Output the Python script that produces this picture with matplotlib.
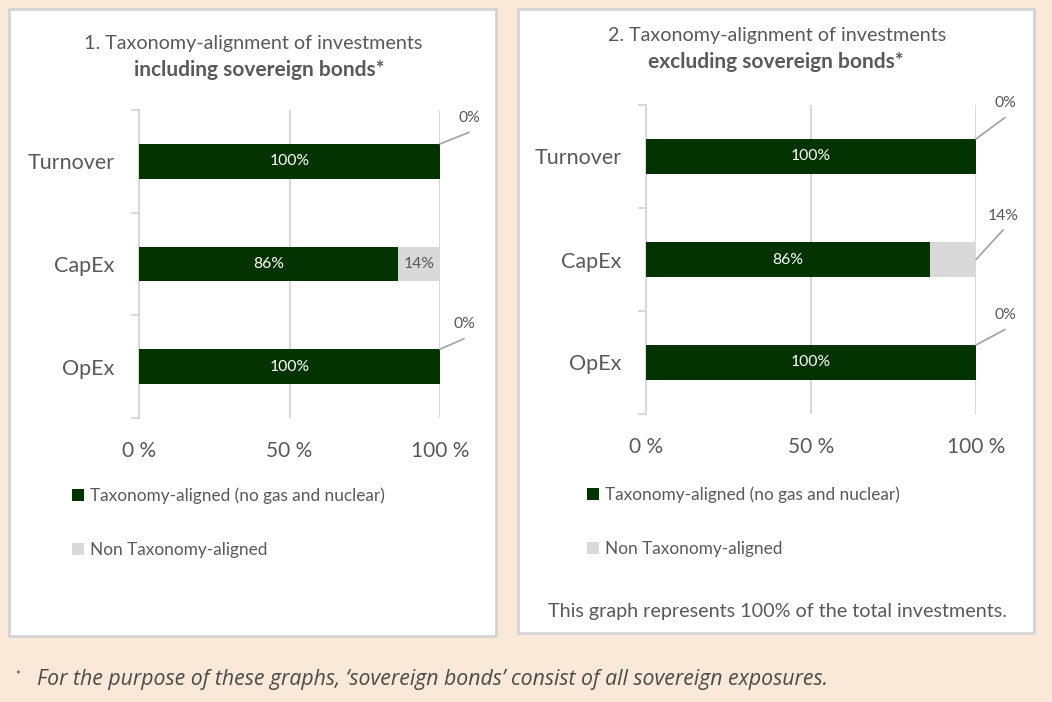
import matplotlib
matplotlib.use('Agg')
import matplotlib.pyplot as plt
from matplotlib.patches import Rectangle, Patch

plt.rcParams['font.family'] = ['Lato', 'DejaVu Sans']

# ----- data -----
categories = ['Turnover', 'CapEx', 'OpEx']
aligned_incl = [100, 86, 100]
non_aligned_incl = [0, 14, 0]
aligned_excl = [100, 86, 100]
non_aligned_excl = [0, 14, 0]
xticks = [0, 50, 100]
xtick_labels = ['0 %', '50 %', '100 %']
legend_labels = ['Taxonomy-aligned (no gas and nuclear)', 'Non Taxonomy-aligned']

# ----- styles -----
W, H = 1052, 702
GREEN = '#023300'
GREY = '#D9D9D9'
TEXT = '#595959'
LEADER = '#A6A6A6'
BG = '#FAE8D8'
BAR_H = 0.34


def fx(px):
    return px / W


def fy(py):
    return 1 - py / H


fig = plt.figure(figsize=(W / 100, H / 100), dpi=100)
fig.patch.set_facecolor(BG)

# white panels
for x0, y0, x1, y1 in [(9, 9, 496, 636), (518, 9, 1034, 633)]:
    fig.add_artist(Rectangle((fx(x0), fy(y1)), fx(x1 - x0), (y1 - y0) / H,
                             transform=fig.transFigure, facecolor='white',
                             edgecolor='#D4D4D4', lw=2, zorder=0))


def draw_panel(ax, aligned, non_aligned, leaders):
    ypos = list(range(len(categories)))
    ax.barh(ypos, aligned, height=BAR_H, color=GREEN, zorder=3)
    ax.barh(ypos, non_aligned, left=aligned, height=BAR_H, color=GREY, zorder=3)
    ax.set_xlim(0, 100)
    ax.set_ylim(len(categories) - 0.5, -0.5)
    ax.set_facecolor('none')
    for s in ['top', 'right', 'bottom']:
        ax.spines[s].set_visible(False)
    ax.spines['left'].set_color(GREY)
    ax.spines['left'].set_linewidth(1.5)
    ax.set_xticks(xticks)
    ax.set_xticklabels(xtick_labels)
    ax.tick_params(axis='x', length=0, pad=16.5, labelsize=15, labelcolor=TEXT)
    ax.set_yticks(ypos)
    ax.set_yticklabels(categories)
    ax.tick_params(axis='y', which='major', length=0, pad=17.5, labelsize=15.5, labelcolor=TEXT)
    ax.set_yticks([i - 0.5 for i in range(len(categories) + 1)], minor=True)
    ax.tick_params(axis='y', which='minor', length=6, width=1.5, color=GREY)
    ax.grid(axis='x', color=GREY, lw=1.5, zorder=0)
    ax.set_axisbelow(True)

    for i, v in enumerate(aligned):
        ax.text(v / 2, i, f'{v}%', color='white', ha='center', va='center',
                fontsize=11.3, zorder=4)
    for i, v in enumerate(non_aligned):
        lead = leaders[i]
        if lead is None:
            ax.text(aligned[i] + v / 2, i, f'{v}%', color=TEXT, ha='center',
                    va='center', fontsize=11.3, zorder=4)
            continue
        dx, dy, at_top = lead
        yy = i - BAR_H / 2 if at_top else i
        xx = aligned[i] + v
        ax.annotate('', xy=(xx, yy), xytext=(dx, dy - 14.5), textcoords='offset pixels',
                    arrowprops=dict(arrowstyle='-', color=LEADER, lw=1.3,
                                    shrinkA=0, shrinkB=0), zorder=4)
        ax.annotate(f'{v}%', xy=(xx, yy), xytext=(dx, dy), textcoords='offset pixels',
                    ha='center', va='center', color=TEXT, fontsize=11.3, zorder=4)


# left chart
ax1 = fig.add_axes([fx(139), fy(418), fx(440 - 139), (418 - 110) / H])
draw_panel(ax1, aligned_incl, non_aligned_incl,
           [(29, 26, True), None, (24, 25, True)])

# right chart
ax2 = fig.add_axes([fx(646), fy(414), fx(976 - 646), (414 - 105) / H])
draw_panel(ax2, aligned_excl, non_aligned_excl,
           [(29, 36, True), (27, 44, False), (29, 30, True)])

# titles
fig.text(fx(253), fy(43), '1. Taxonomy-alignment of investments', ha='center',
         va='center', fontsize=14.2, color=TEXT)
fig.text(fx(259), fy(70), 'including sovereign bonds*', ha='center', va='center',
         fontsize=15, color=TEXT, fontweight='bold')
fig.text(fx(777), fy(36), '2. Taxonomy-alignment of investments', ha='center',
         va='center', fontsize=14.2, color=TEXT)
fig.text(fx(776), fy(62), 'excluding sovereign bonds*', ha='center', va='center',
         fontsize=15, color=TEXT, fontweight='bold')

# legends
handles = [Patch(facecolor=GREEN), Patch(facecolor=GREY)]
for xl, yl in [(72, 523), (587, 522)]:
    fig.legend(handles, legend_labels, loc='center left',
               bbox_to_anchor=(fx(xl), fy(yl)), frameon=False, fontsize=12.4,
               labelcolor=TEXT, handlelength=0.72, handleheight=0.72,
               handletextpad=0.3, labelspacing=2.2, borderpad=0, borderaxespad=0)

fig.text(fx(777), fy(611), 'This graph represents 100% of the total investments.',
         ha='center', va='center', fontsize=14.2, color=TEXT)

# footnote
fig.text(fx(15), fy(676), '*', ha='left', va='center', fontsize=8, color='#404040')
fig.text(fx(37), fy(680),
         "For the purpose of these graphs, \u2018sovereign bonds\u2019 consist of all sovereign exposures.",
         ha='left', va='center', fontsize=15.3, color='#4A4A4A', style='italic',
         family=['Open Sans', 'DejaVu Sans'])

fig.savefig('out.png', dpi=100, facecolor=BG)
